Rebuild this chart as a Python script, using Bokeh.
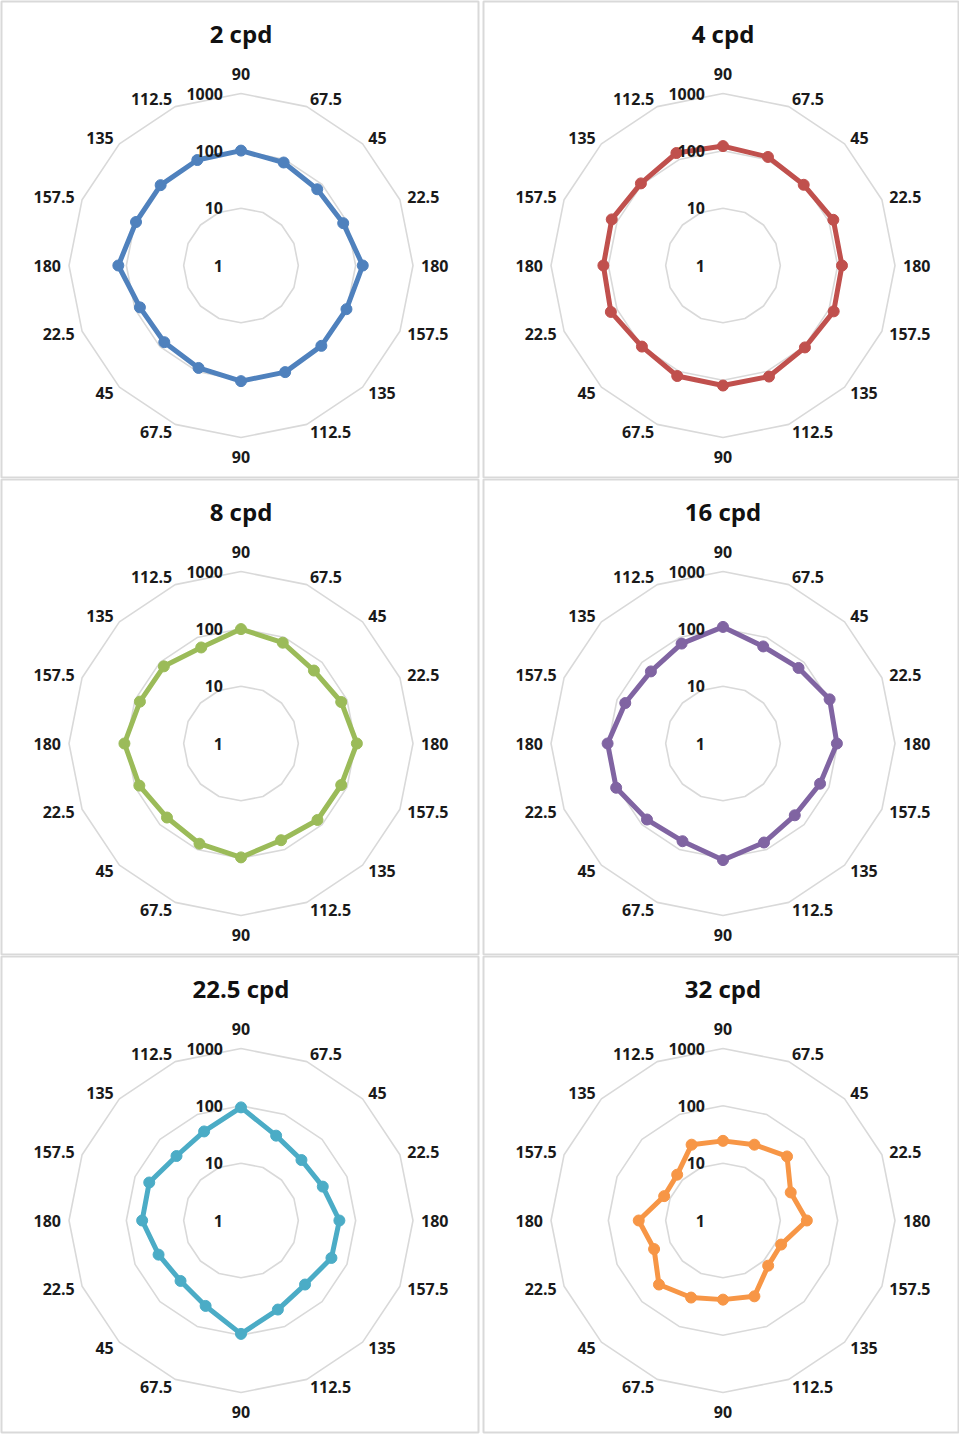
import numpy as np
from bokeh.plotting import figure
from bokeh.layouts import gridplot
from bokeh.models import Range1d, ColumnDataSource
from bokeh.core.properties import value
from bokeh.embed import file_html
from bokeh.resources import INLINE

# Orientation categories, clockwise from the top spoke
angle_labels = ["90", "67.5", "45", "22.5", "180", "157.5", "135", "112.5",
                "90", "67.5", "45", "22.5", "180", "157.5", "135", "112.5"]

# Contrast sensitivity per orientation for each spatial frequency
cpd_2 = [101, 88, 76, 85, 133, 98, 96, 103, 104, 86, 78, 81, 138, 96, 96, 98]
cpd_4 = [121, 112, 98, 121, 119, 123, 105, 125, 124, 122, 100, 131, 122, 126, 106, 133]
cpd_8 = [99, 80, 63, 78, 105, 78, 77, 67, 97, 78, 67, 83, 108, 81, 80, 65]
cpd_16 = [108, 68, 73, 103, 97, 68, 59, 74, 108, 70, 75, 104, 103, 70, 60, 77]
cpd_22_5 = [94, 40, 31, 35, 52, 51, 38, 48, 95, 41, 31, 36, 53, 54, 39, 48]
cpd_32 = [24.5, 27, 38, 19, 29, 12.5, 13, 27, 24, 28.5, 38, 20, 29.5, 12.9, 13.5, 27]

titles = ["2 cpd", "4 cpd", "8 cpd", "16 cpd", "22.5 cpd", "32 cpd"]
series = [cpd_2, cpd_4, cpd_8, cpd_16, cpd_22_5, cpd_32]
colors = ["#4F81BD", "#C0504D", "#9BBB59", "#8064A2", "#4BACC6", "#F79646"]

# Radial log axis: 1 at the centre, one ring per decade up to 1000
ring_values = [1, 10, 100, 1000]
ring_labels = ["1", "10", "100", "1000"]

PX = 57.33          # pixels per decade
FONT = value("Open Sans")
TEXT_COLOR = "#1a1a1a"
GRID_COLOR = "#d9d9d9"

n = len(angle_labels)
theta = np.deg2rad(90 - np.arange(n) * 360.0 / n)
cos_t, sin_t = np.cos(theta), np.sin(theta)


def radar(title, vals, color, left, right, top, bottom, frame_w, frame_h=476):
    cx, cy = 239.5, 264.0
    p = figure(width=frame_w + left + right, height=frame_h + top + bottom,
               x_range=Range1d(-cx / PX, (frame_w - cx) / PX),
               y_range=Range1d(-(frame_h - cy) / PX, cy / PX),
               output_backend="svg", toolbar_location=None, title=None,
               x_axis_location=None, y_axis_location=None,
               min_border_left=left, min_border_right=right,
               min_border_top=top, min_border_bottom=bottom,
               outline_line_color=GRID_COLOR, outline_line_width=2,
               background_fill_color="white", border_fill_color="white")
    p.grid.grid_line_color = None

    # decade rings
    rmax = np.log10(ring_values[-1])
    for rv in ring_values[1:]:
        r = np.log10(rv)
        p.line(np.append(r * cos_t, r * cos_t[0]), np.append(r * sin_t, r * sin_t[0]),
               line_color=GRID_COLOR, line_width=1.6)

    # data polygon
    r = np.log10(np.array(vals, dtype=float))
    xs, ys = r * cos_t, r * sin_t
    p.line(np.append(xs, xs[0]), np.append(ys, ys[0]), line_color=color,
           line_width=5, line_join="round")
    p.scatter(xs, ys, size=11, fill_color=color, line_color=color)

    # category labels around the outer ring
    gap = 8.0
    for align, mask in (("left", cos_t > 1e-6), ("right", cos_t < -1e-6),
                        ("center", np.abs(cos_t) <= 1e-6)):
        idx = np.where(mask)[0]
        vert = np.abs(cos_t[idx]) <= 1e-6
        src = ColumnDataSource(dict(
            x=rmax * cos_t[idx], y=rmax * sin_t[idx],
            t=[angle_labels[i] for i in idx],
            xo=gap * cos_t[idx],
            yo=-(gap * sin_t[idx] + np.where(vert, 12.0, 0.0) * np.sign(sin_t[idx]))))
        p.text("x", "y", text="t", x_offset="xo", y_offset="yo", source=src,
               text_align=align, text_baseline="middle", text_font=FONT,
               text_font_style="bold", text_font_size="16px", text_color=TEXT_COLOR)

    # radial axis labels along the top spoke
    p.text([0] * len(ring_values), list(np.log10(ring_values)), text=ring_labels,
           x_offset=-18, text_align="right", text_baseline="middle",
           text_font=FONT, text_font_style="bold", text_font_size="16px",
           text_color=TEXT_COLOR)

    # panel title
    p.text([0], [232 / PX], text=[title], text_align="center", text_baseline="middle",
           text_font=FONT, text_font_style="bold", text_font_size="24px",
           text_color="#111111")
    return p


pads = [
    (1, 2, 1, 1, 477), (3, 0, 1, 1, 476),
    (1, 2, 1, 0, 477), (3, 0, 1, 0, 476),
    (1, 2, 1, 3, 477), (3, 0, 1, 3, 476),
]
plots = [radar(t, v, c, *pd) for t, v, c, pd in zip(titles, series, colors, pads)]
grid = gridplot([plots[0:2], plots[2:4], plots[4:6]], toolbar_location=None)

open("out.html", "w").write(file_html(grid, INLINE))
